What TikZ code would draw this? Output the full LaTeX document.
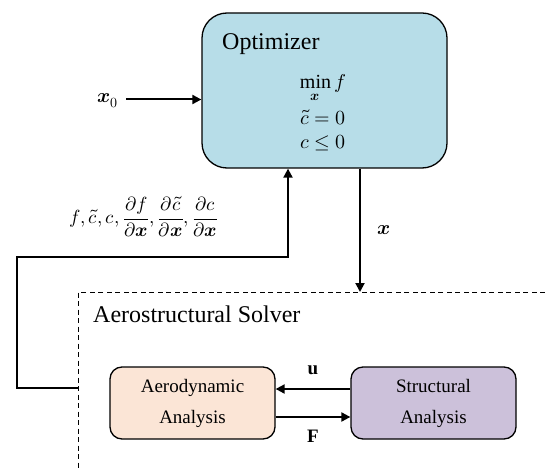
\documentclass[tikz,border=0pt]{standalone}
\usepackage{amsmath}
\usepackage{fontspec}
\usepackage{unicode-math}
\setmainfont{Liberation Serif}
\setmathfont{Latin Modern Math}
\usetikzlibrary{arrows.meta}
\definecolor{optfill}{HTML}{B7DDE8}
\definecolor{aerofill}{HTML}{FBE5D6}
\definecolor{strfill}{HTML}{CCC1DA}
\tikzset{
  blk/.style={draw=black, line width=1.3pt, rounded corners=12pt, inner sep=0pt},
  conn/.style={line width=2pt, -{Triangle[length=9pt,width=9pt]}},
  bound/.style={line width=1pt, dash pattern=on 5pt off 3.5pt},
  big/.style={font=\fontsize{24}{28}\selectfont},
  mid/.style={font=\fontsize{20}{23}\selectfont},
}
\begin{document}
\begin{tikzpicture}[x=1pt,y=-1pt]
\useasboundingbox (0,0) rectangle (545,470);
% Optimizer
\node[blk, rounded corners=25pt, fill=optfill, minimum width=245pt, minimum height=155pt] (opt) at (324.5,90.5) {};
\node[anchor=base west, inner sep=0pt, big] (optlabel) at (222,50) {Optimizer};
\node[anchor=base, inner sep=0pt, mid] (m1) at (323,89) {$\min\limits_{\symbfit{x}} f$};
\node[anchor=base, inner sep=0pt, mid] (m2) at (323,125) {$\tilde{c} = 0$};
\node[anchor=base, inner sep=0pt, mid] (m3) at (323,149) {$c \le 0$};
% x0
\node[inner sep=0pt, mid] (x0) at (108,101) {$\symbfit{x}_0$};
\coordinate (x0end) at (126,99.5);
\draw[conn] (x0end) -- (opt.west |- x0end);
% Solver boundary
\coordinate (bTL) at (78,292);
\coordinate (bTR) at (545,292);
\coordinate (bBL) at (78,470);
\draw[bound] (bTR) -- (bTL) -- (bBL);
\node[anchor=base west, inner sep=0pt, big] (solverlabel) at (93,322) {Aerostructural Solver};
% Analysis boxes
\node[blk, fill=aerofill, minimum width=165pt, minimum height=72pt, align=center, font=\fontsize{19}{31}\selectfont] (aero) at (192.5,403) {Aerodynamic\\Analysis};
\node[blk, fill=strfill, minimum width=165pt, minimum height=72pt, align=center, font=\fontsize{19}{31}\selectfont] (str) at (433.5,403) {Structural\\Analysis};
\draw[conn] (str.west |- 0,389) -- (aero.east |- 0,389);
\draw[conn] (aero.east |- 0,417) -- (str.west |- 0,417);
\node[font=\fontsize{19}{22}\selectfont\bfseries, inner sep=0pt] (ulab) at (313,370) {u};
\node[font=\fontsize{19}{22}\selectfont\bfseries, inner sep=0pt] (Flab) at (313,436) {F};
% x arrow
\coordinate (xstart) at (360,168);
\draw[conn] (opt.south -| xstart) -- (bTL -| xstart);
\node[inner sep=0pt, mid] (xlab) at (384,230) {$\symbfit{x}$};
% feedback
\coordinate (fbstart) at (78,388);
\coordinate (fbL) at (17,388);
\coordinate (fbTL) at (17,257);
\coordinate (fbTR) at (288,257);
\draw[conn] (fbstart) -- (fbL) -- (fbTL) -- (fbTR) -- (opt.south -| fbTR);
\node[inner sep=0pt, font=\fontsize{19}{22}\selectfont] (fblab) at (144,217) {$f,\tilde{c},c,\dfrac{\partial f}{\partial \symbfit{x}},\dfrac{\partial \tilde{c}}{\partial \symbfit{x}},\dfrac{\partial c}{\partial \symbfit{x}}$};
\end{tikzpicture}
\end{document}
